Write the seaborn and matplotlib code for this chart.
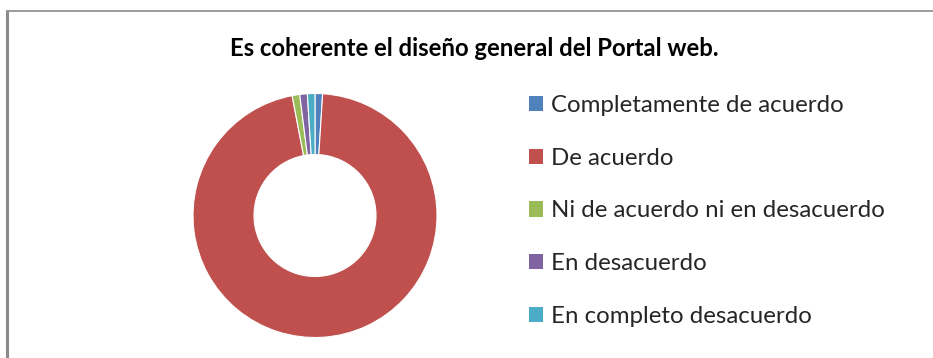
import matplotlib
matplotlib.use("Agg")
import matplotlib.pyplot as plt
from matplotlib.lines import Line2D
from matplotlib.patches import Patch
import seaborn as sns

title = "Es coherente el diseño general del Portal web."
categories = [
    "Completamente de acuerdo",
    "De acuerdo",
    "Ni de acuerdo ni en desacuerdo",
    "En desacuerdo",
    "En completo desacuerdo",
]
counts = [1, 96, 1, 1, 1]
colors = ["#4F81BD", "#C0504D", "#9BBB59", "#8064A2", "#4BACC6"]

sns.set_theme(style="white")
plt.rcParams["font.family"] = ["Lato", "DejaVu Sans"]

W, H = 933, 358
fig = plt.figure(figsize=(W / 100, H / 100), dpi=100)
fig.patch.set_facecolor("white")

# chart-area border (left and top edges visible)
fig.add_artist(Line2D([7.5 / W, 7.5 / W], [0, 1 - 11 / H], transform=fig.transFigure,
                      color="#8A8A8A", lw=2.2, solid_capstyle="butt"))
fig.add_artist(Line2D([6 / W, 1], [1 - 11 / H, 1 - 11 / H], transform=fig.transFigure,
                      color="#8A8A8A", lw=1.2, solid_capstyle="butt"))

# donut
cx, cy, r = 315, 358 - 215.5, 122
ax = fig.add_axes([(cx - r) / W, (cy - r) / H, 2 * r / W, 2 * r / H])
wedges, _ = ax.pie(
    counts,
    colors=colors,
    startangle=90,
    counterclock=False,
    radius=1,
    wedgeprops=dict(width=0.5, edgecolor="white", linewidth=0.8),
)
ax.set_xlim(-1, 1)
ax.set_ylim(-1, 1)
ax.set_aspect("equal")
ax.axis("off")

fig.text(474 / W, 1 - 48 / H, title, ha="center", va="center",
         fontsize=17.2, fontweight="bold", color="black")

handles = [Patch(facecolor=c, edgecolor="none") for c in colors]
fig.legend(
    handles, categories,
    loc="upper left",
    bbox_to_anchor=(529 / W, 1 - 95 / H),
    frameon=False,
    fontsize=17.3,
    handlelength=0.6,
    handleheight=0.6,
    handletextpad=0.3,
    labelspacing=1.32,
    borderpad=0,
    borderaxespad=0,
)

fig.savefig("out.png", dpi=100, facecolor="white")
